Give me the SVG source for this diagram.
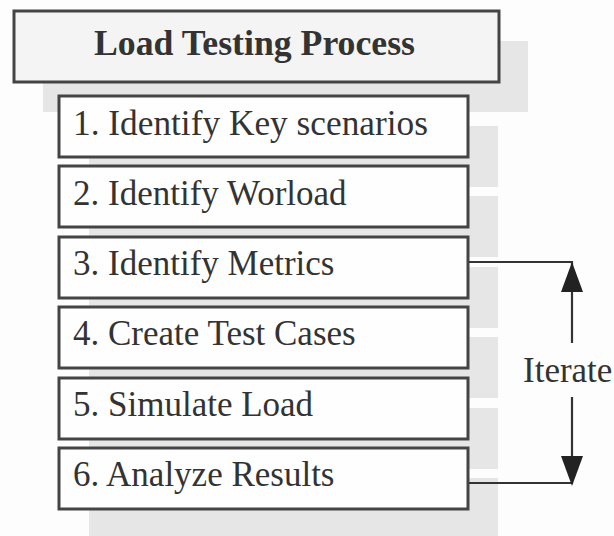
<svg xmlns="http://www.w3.org/2000/svg" width="614" height="536" viewBox="0 0 614 536">
<defs>
<style>
.bg{fill:#fdfdfd}
.sh{fill:#e6e6e6}
.box{fill:#fefefe;stroke:#444;stroke-width:3}
.title{fill:#f4f4f4;stroke:#444;stroke-width:3}
.t{font-family:"Liberation Serif","Times New Roman",serif;font-size:35px;fill:#333}
.tb{font-family:"Liberation Serif","Times New Roman",serif;font-size:35px;font-weight:bold;fill:#333}
.ln{fill:none;stroke:#333;stroke-width:2.2}
.ah{fill:#222}
</style>
</defs>
<rect class="bg" x="0" y="0" width="614" height="536"/>
<g id="shadows">
<rect class="sh" x="43" y="41" width="485" height="71"/>
<rect class="sh" x="89" y="126" width="409" height="61"/>
<rect class="sh" x="89" y="196" width="409" height="61"/>
<rect class="sh" x="89" y="267" width="409" height="61"/>
<rect class="sh" x="89" y="337" width="409" height="61"/>
<rect class="sh" x="89" y="408" width="409" height="61"/>
<rect class="sh" x="89" y="478" width="409" height="61"/>
</g>
<g id="title">
<rect class="title" x="14" y="11" width="485" height="71"/>
<text class="tb" x="94" y="55" textLength="321" lengthAdjust="spacingAndGlyphs">Load Testing Process</text>
</g>
<g id="step1">
<rect class="box" x="59" y="96" width="409" height="61"/>
<text class="t" x="73" y="135" textLength="355" lengthAdjust="spacingAndGlyphs">1. Identify Key scenarios</text>
</g>
<g id="step2">
<rect class="box" x="59" y="166" width="409" height="61"/>
<text class="t" x="73" y="205">2. Identify Worload</text>
</g>
<g id="step3">
<rect class="box" x="59" y="237" width="409" height="61"/>
<text class="t" x="73" y="275">3. Identify Metrics</text>
</g>
<g id="step4">
<rect class="box" x="59" y="307" width="409" height="61"/>
<text class="t" x="73" y="345">4. Create Test Cases</text>
</g>
<g id="step5">
<rect class="box" x="59" y="378" width="409" height="61"/>
<text class="t" x="73" y="416">5. Simulate Load</text>
</g>
<g id="step6">
<rect class="box" x="59" y="448" width="409" height="61"/>
<text class="t" x="73" y="486">6. Analyze Results</text>
</g>
<g id="connectors">
<polyline class="ln" points="469,262 572,262 572,343"/>
<polygon class="ah" points="572,262 583,292 561,292"/>
<polyline class="ln" points="572,397 572,483 469,483"/>
<polygon class="ah" points="572,486 583,456 561,456"/>
</g>
<g id="iterate">
<text class="t" x="523" y="382">Iterate</text>
</g>
</svg>
